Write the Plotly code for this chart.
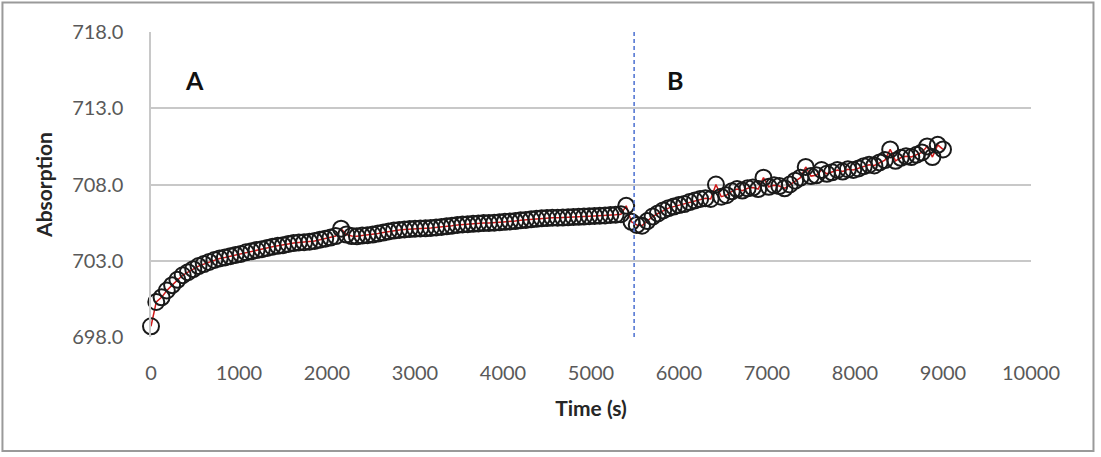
import plotly.graph_objects as go

# Sampling times (s)
time_s = [
    0, 60, 120, 180, 240, 300, 360, 420, 480, 540,
    600, 660, 720, 780, 840, 900, 960, 1020, 1080, 1140,
    1200, 1260, 1320, 1380, 1440, 1500, 1560, 1620, 1680, 1740,
    1800, 1860, 1920, 1980, 2040, 2100, 2160, 2220, 2280, 2340,
    2400, 2460, 2520, 2580, 2640, 2700, 2760, 2820, 2880, 2940,
    3000, 3060, 3120, 3180, 3240, 3300, 3360, 3420, 3480, 3540,
    3600, 3660, 3720, 3780, 3840, 3900, 3960, 4020, 4080, 4140,
    4200, 4260, 4320, 4380, 4440, 4500, 4560, 4620, 4680, 4740,
    4800, 4860, 4920, 4980, 5040, 5100, 5160, 5220, 5280, 5340,
    5400, 5460, 5520, 5580, 5640, 5700, 5760, 5820, 5880, 5940,
    6000, 6060, 6120, 6180, 6240, 6300, 6360, 6420, 6480, 6540,
    6600, 6660, 6720, 6780, 6840, 6900, 6960, 7020, 7080, 7140,
    7200, 7260, 7320, 7380, 7440, 7500, 7560, 7620, 7680, 7740,
    7800, 7860, 7920, 7980, 8040, 8100, 8160, 8220, 8280, 8340,
    8400, 8460, 8520, 8580, 8640, 8700, 8760, 8820, 8880, 8940,
    9000,
]

# Absorption values
absorption = [
    698.70, 700.30, 700.60, 701.05, 701.40, 701.75, 702.05, 702.25, 702.45, 702.65,
    702.78, 702.92, 703.05, 703.15, 703.22, 703.30, 703.38, 703.45, 703.55, 703.62,
    703.70, 703.76, 703.84, 703.92, 703.98, 704.02, 704.10, 704.16, 704.20, 704.22,
    704.25, 704.30, 704.38, 704.45, 704.52, 704.62, 705.10, 704.72, 704.62, 704.60,
    704.65, 704.68, 704.72, 704.78, 704.85, 704.92, 704.98, 705.02, 705.05, 705.08,
    705.10, 705.12, 705.13, 705.15, 705.18, 705.22, 705.26, 705.30, 705.35, 705.38,
    705.40, 705.42, 705.45, 705.47, 705.48, 705.50, 705.52, 705.55, 705.58, 705.60,
    705.65, 705.68, 705.72, 705.75, 705.78, 705.80, 705.82, 705.82, 705.83, 705.85,
    705.87, 705.88, 705.90, 705.92, 705.94, 705.95, 705.97, 706.00, 706.02, 706.05,
    706.60, 705.55, 705.35, 705.30, 705.60, 705.90, 706.10, 706.30, 706.45, 706.55,
    706.65, 706.72, 706.85, 706.95, 707.05, 707.10, 707.05, 708.00, 707.20, 707.30,
    707.55, 707.70, 707.60, 707.75, 707.80, 707.70, 708.45, 707.85, 707.95, 707.90,
    707.75, 708.00, 708.25, 708.45, 709.15, 708.55, 708.60, 708.95, 708.70, 708.80,
    708.95, 708.85, 709.00, 708.95, 709.05, 709.20, 709.30, 709.25, 709.45, 709.60,
    710.30, 709.55, 709.75, 709.85, 709.80, 709.95, 710.10, 710.50, 709.80, 710.60,
    710.30,
]

boundary_time = [5490]
phase_labels = ["A", "B"]
phase_label_x = [490, 5960]
phase_label_y = [716.0, 716.0]

x_ticks = [0, 1000, 2000, 3000, 4000, 5000, 6000, 7000, 8000, 9000, 10000]
y_ticks = [698.0, 703.0, 708.0, 713.0, 718.0]

FONT = "Lato, 'Open Sans', sans-serif"
GRID = "#c8c8c8"

fig = go.Figure()

fig.add_trace(go.Scatter(
    x=time_s, y=absorption,
    mode="lines+markers",
    line=dict(color="#d01818", width=1.5),
    marker=dict(symbol="circle-open", size=16, color="#1a1a1a",
                line=dict(width=2, color="#1a1a1a")),
    cliponaxis=False,
    showlegend=False,
    hoverinfo="x+y",
))

for bt in boundary_time:
    fig.add_shape(type="line", xref="x", yref="y",
                  x0=bt, x1=bt, y0=698, y1=718,
                  line=dict(color="#4a6fd0", width=1.5, dash="4px,3px"))

for lab, lx, ly in zip(phase_labels, phase_label_x, phase_label_y):
    fig.add_annotation(x=lx, y=ly, text="<b>" + lab + "</b>", showarrow=False,
                       xref="x", yref="y", yanchor="top",
                       font=dict(family=FONT, size=25, color="#111111"))

# outer chart border
fig.add_shape(type="rect", xref="paper", yref="paper",
              x0=-0.1688, x1=1.0710, y0=-0.3738, y1=1.0967,
              line=dict(color="#9a9a9a", width=2), layer="below")

fig.update_layout(
    width=1101, height=457,
    margin=dict(l=151, r=70, t=32, b=120, pad=0),
    paper_bgcolor="white", plot_bgcolor="white",
    font=dict(family=FONT, color="#595959", size=20),
    xaxis=dict(
        range=[0, 10000], tickvals=x_ticks, ticktext=[str(v) for v in x_ticks],
        showgrid=False, zeroline=False, showline=False,
        ticks="", ticklabelstandoff=22,
        tickfont=dict(size=20, color="#595959"),
        title=dict(text="<b>Time (s)</b>", standoff=18,
                   font=dict(size=21, color="#262626")),
    ),
    yaxis=dict(
        range=[698, 718], tickvals=y_ticks, ticktext=["%.1f" % v for v in y_ticks],
        showgrid=True, gridcolor=GRID, gridwidth=1.5,
        zeroline=False, showline=True, linecolor=GRID, linewidth=1.5,
        ticks="", ticklabelstandoff=22,
        tickfont=dict(size=20, color="#595959"),
        title=dict(text="<b>Absorption</b>", standoff=14,
                   font=dict(size=21, color="#262626")),
    ),
)

fig.write_html("out.html")
